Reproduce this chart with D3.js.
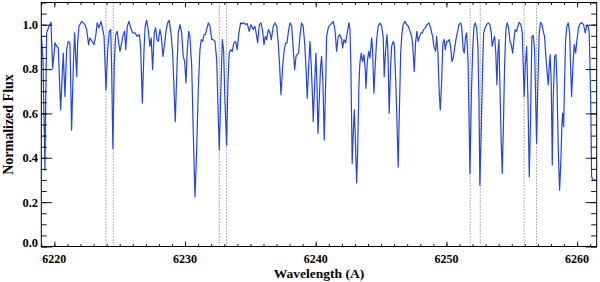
<!DOCTYPE html>
<html>
<head>
<meta charset="utf-8">
<script src="https://cdn.jsdelivr.net/npm/d3@7"></script>
<style>
  body { margin: 0; background: #fff; }
  svg { display: block; }
</style>
</head>
<body>
<svg id="main_svg" width="600" height="282"></svg>
<script>
// spectrum, wavelength in Angstrom
const wave = [
  6219.00, 6219.13, 6219.28, 6219.34, 6219.41, 6219.59, 6219.74, 6219.87, 6220.05, 6220.18,
  6220.30, 6220.48, 6220.68, 6220.81, 6220.94, 6221.06, 6221.19, 6221.32, 6221.45, 6221.55,
  6221.71, 6221.78, 6221.88, 6222.09, 6222.21, 6222.34, 6222.47, 6222.62, 6222.72, 6222.88,
  6223.03, 6223.16, 6223.28, 6223.41, 6223.57, 6223.70, 6223.80, 6223.95, 6224.08, 6224.20,
  6224.31, 6224.38, 6224.48, 6224.58, 6224.69, 6224.81, 6224.92, 6225.02, 6225.15, 6225.27,
  6225.38, 6225.46, 6225.58, 6225.71, 6225.84, 6225.99, 6226.17, 6226.34, 6226.50, 6226.60,
  6226.73, 6226.86, 6226.95, 6227.06, 6227.18, 6227.31, 6227.41, 6227.52, 6227.64, 6227.75,
  6227.85, 6227.95, 6228.08, 6228.18, 6228.31, 6228.41, 6228.54, 6228.67, 6228.79, 6228.92,
  6229.05, 6229.15, 6229.25, 6229.36, 6229.48, 6229.61, 6229.74, 6229.86, 6229.97, 6230.07,
  6230.17, 6230.28, 6230.37, 6230.51, 6230.63, 6230.76, 6230.89, 6231.01, 6231.14, 6231.24,
  6231.35, 6231.45, 6231.55, 6231.65, 6231.78, 6231.91, 6232.04, 6232.16, 6232.29, 6232.42,
  6232.54, 6232.62, 6232.72, 6232.85, 6232.95, 6233.05, 6233.18, 6233.28, 6233.38, 6233.49,
  6233.61, 6233.74, 6233.87, 6233.99, 6234.12, 6234.25, 6234.38, 6234.51, 6234.64, 6234.76,
  6234.91, 6235.04, 6235.10, 6235.22, 6235.35, 6235.48, 6235.56, 6235.68, 6235.81, 6235.94,
  6236.04, 6236.14, 6236.24, 6236.37, 6236.50, 6236.60, 6236.75, 6236.88, 6237.01, 6237.13,
  6237.24, 6237.34, 6237.47, 6237.59, 6237.70, 6237.80, 6237.93, 6238.03, 6238.16, 6238.28,
  6238.39, 6238.49, 6238.58, 6238.69, 6238.79, 6238.92, 6239.04, 6239.15, 6239.25, 6239.35,
  6239.46, 6239.56, 6239.66, 6239.76, 6239.81, 6239.92, 6240.01, 6240.09, 6240.17, 6240.27,
  6240.37, 6240.45, 6240.55, 6240.65, 6240.76, 6240.83, 6240.96, 6241.09, 6241.22, 6241.34,
  6241.47, 6241.60, 6241.72, 6241.85, 6241.98, 6242.06, 6242.16, 6242.29, 6242.41, 6242.54,
  6242.62, 6242.69, 6242.79, 6242.87, 6242.95, 6243.02, 6243.13, 6243.21, 6243.31, 6243.38,
  6243.48, 6243.59, 6243.69, 6243.79, 6243.84, 6243.94, 6244.05, 6244.15, 6244.28, 6244.35,
  6244.45, 6244.55, 6244.66, 6244.78, 6244.91, 6245.04, 6245.16, 6245.24, 6245.35, 6245.45,
  6245.52, 6245.62, 6245.73, 6245.81, 6245.93, 6246.01, 6246.11, 6246.19, 6246.31, 6246.39,
  6246.50, 6246.60, 6246.69, 6246.83, 6246.96, 6247.08, 6247.21, 6247.34, 6247.41, 6247.54,
  6247.64, 6247.74, 6247.84, 6247.95, 6248.05, 6248.15, 6248.26, 6248.38, 6248.53, 6248.66,
  6248.79, 6248.94, 6249.04, 6249.17, 6249.25, 6249.35, 6249.45, 6249.53, 6249.63, 6249.73,
  6249.83, 6249.91, 6250.02, 6250.12, 6250.22, 6250.32, 6250.42, 6250.52, 6250.65, 6250.75,
  6250.86, 6250.96, 6251.09, 6251.16, 6251.29, 6251.36, 6251.47, 6251.55, 6251.65, 6251.72,
  6251.80, 6251.90, 6252.01, 6252.11, 6252.21, 6252.31, 6252.41, 6252.49, 6252.56, 6252.66,
  6252.77, 6252.85, 6252.97, 6253.07, 6253.20, 6253.33, 6253.43, 6253.50, 6253.58, 6253.69,
  6253.78, 6253.86, 6253.94, 6254.02, 6254.09, 6254.19, 6254.27, 6254.35, 6254.45, 6254.55,
  6254.65, 6254.76, 6254.86, 6254.96, 6255.07, 6255.17, 6255.26, 6255.37, 6255.47, 6255.57,
  6255.70, 6255.80, 6255.88, 6255.95, 6256.03, 6256.14, 6256.24, 6256.34, 6256.44, 6256.54,
  6256.64, 6256.75, 6256.83, 6256.90, 6257.00, 6257.10, 6257.21, 6257.31, 6257.41, 6257.51,
  6257.61, 6257.71, 6257.79, 6257.87, 6257.94, 6258.02, 6258.10, 6258.17, 6258.28, 6258.38,
  6258.46, 6258.56, 6258.66, 6258.76, 6258.84, 6258.89, 6258.97, 6259.04, 6259.12, 6259.22,
  6259.32, 6259.43, 6259.50, 6259.58, 6259.68, 6259.78, 6259.89, 6259.99, 6260.11, 6260.24,
  6260.37, 6260.50, 6260.62, 6260.73, 6260.83, 6260.93, 6261.04, 6261.11, 6261.22, 6261.50
];

// normalized flux, same order as wave
const flux = [
  0.950, 0.842, 0.344, 0.661, 0.963, 0.993, 1.011, 0.804, 0.918, 0.902,
  0.895, 0.616, 0.872, 0.676, 0.887, 0.925, 0.918, 0.525, 0.812, 0.963,
  0.766, 0.918, 0.993, 1.015, 1.008, 1.000, 0.978, 0.910, 0.940, 0.925,
  0.910, 0.947, 1.008, 0.986, 1.015, 0.978, 0.947, 0.706, 0.887, 0.970,
  0.978, 0.812, 0.442, 0.812, 0.955, 0.970, 0.918, 0.880, 0.918, 0.955,
  0.970, 0.887, 0.993, 1.015, 0.986, 0.963, 0.963, 0.947, 0.955, 0.902,
  0.646, 0.887, 0.993, 1.020, 0.978, 0.902, 0.940, 0.797, 0.963, 0.986,
  0.933, 0.925, 0.978, 0.947, 0.857, 0.902, 0.970, 1.008, 1.020, 0.963,
  0.872, 0.721, 0.563, 0.766, 0.963, 1.000, 0.963, 0.857, 0.834, 0.737,
  0.887, 0.970, 0.947, 0.812, 0.510, 0.223, 0.434, 0.706, 0.887, 0.933,
  0.925, 0.955, 0.955, 0.978, 1.008, 0.993, 0.933, 0.933, 0.925, 0.843,
  0.585, 0.435, 0.661, 0.933, 0.887, 0.661, 0.457, 0.737, 0.872, 0.887,
  0.880, 0.918, 0.925, 0.887, 0.963, 1.008, 1.005, 1.008, 1.000, 1.005,
  0.970, 1.000, 0.993, 0.978, 0.993, 0.947, 0.918, 1.000, 1.008, 0.970,
  0.910, 0.947, 0.933, 0.978, 0.963, 0.933, 0.993, 1.008, 0.993, 0.918,
  0.812, 0.684, 0.812, 0.887, 0.918, 0.918, 0.978, 1.008, 0.993, 0.887,
  0.797, 0.857, 0.865, 0.872, 0.947, 1.008, 0.993, 0.918, 0.812, 0.669,
  0.812, 0.925, 0.812, 0.661, 0.563, 0.737, 0.872, 0.737, 0.510, 0.661,
  0.812, 0.857, 0.737, 0.480, 0.737, 0.947, 0.986, 1.000, 1.005, 1.015,
  0.978, 0.880, 0.947, 0.955, 0.933, 0.895, 0.933, 0.918, 0.963, 1.008,
  0.978, 0.812, 0.374, 0.510, 0.616, 0.510, 0.287, 0.435, 0.737, 0.827,
  0.872, 0.834, 0.865, 0.797, 0.714, 0.827, 0.880, 0.850, 0.940, 0.887,
  0.691, 0.812, 0.933, 0.993, 1.008, 0.993, 0.947, 0.766, 0.887, 0.955,
  0.887, 0.601, 0.812, 0.902, 0.925, 0.910, 0.766, 0.616, 0.359, 0.585,
  0.872, 0.963, 1.000, 1.015, 1.000, 0.993, 0.970, 0.947, 0.918, 0.789,
  0.918, 0.970, 0.925, 0.947, 0.963, 0.963, 0.978, 0.986, 1.000, 1.008,
  0.986, 0.947, 0.902, 0.880, 0.947, 0.872, 0.691, 0.616, 0.737, 0.918,
  0.933, 0.887, 0.925, 0.925, 0.933, 0.902, 0.834, 0.850, 0.902, 0.940,
  0.970, 1.000, 1.008, 0.993, 0.887, 0.872, 0.947, 0.963, 0.842, 0.616,
  0.329, 0.661, 0.887, 0.993, 1.008, 0.986, 0.902, 0.661, 0.276, 0.510,
  0.812, 0.963, 0.986, 1.000, 1.008, 1.000, 0.963, 0.902, 0.925, 0.947,
  0.872, 0.729, 0.872, 0.933, 0.737, 0.480, 0.329, 0.510, 0.812, 0.978,
  1.008, 0.986, 0.925, 0.910, 0.872, 0.933, 0.978, 0.970, 0.993, 1.011,
  1.000, 0.963, 0.812, 0.676, 0.812, 0.902, 0.661, 0.314, 0.585, 0.947,
  0.951, 0.887, 0.661, 0.465, 0.737, 0.963, 1.011, 1.000, 0.970, 0.947,
  0.857, 0.782, 0.729, 0.812, 0.865, 0.737, 0.367, 0.661, 0.857, 0.865,
  0.737, 0.435, 0.254, 0.389, 0.555, 0.601, 0.540, 0.737, 0.933, 0.993,
  1.008, 0.963, 0.812, 0.676, 0.812, 0.910, 0.872, 0.933, 0.986, 1.005,
  1.008, 1.000, 0.963, 0.993, 0.996, 0.963, 0.661, 0.314, 0.299, 0.299
];

// dotted marker lines (line centres)
const markLines = [6223.95, 6224.51, 6232.62, 6233.18, 6251.82, 6252.59, 6255.95, 6256.90];

// tick values
const xTicks = [6220, 6230, 6240, 6250, 6260];
const yTicks = [0.0, 0.2, 0.4, 0.6, 0.8, 1.0];

const SpectrumPlot = function() {
  function make() {
    let svg = d3.select('#main_svg');

    let box = { left: 41.3, right: 596.7, top: 2.5, bottom: 246.5 };
    let font = "'Liberation Serif', 'Times New Roman', serif";

    let x = d3.scaleLinear().domain([6219, 6261.5]).range([box.left, box.right]);
    let y = d3.scaleLinear().domain([0, 1.1]).range([box.bottom, box.top]);

    // clip for the spectrum
    svg.append('defs')
      .append('clipPath')
      .attr('id', 'plot_clip')
      .append('rect')
      .attr('x', box.left)
      .attr('y', box.top)
      .attr('width', box.right - box.left)
      .attr('height', box.bottom - box.top);

    // dotted line markers
    /////////////////////////////////////
    svg.append('g')
      .selectAll('line')
      .data(markLines)
      .enter()
      .append('line')
      .attr('x1', d => x(d))
      .attr('x2', d => x(d))
      .attr('y1', box.top)
      .attr('y2', box.bottom)
      .attr('stroke', '#555')
      .attr('stroke-width', 0.9)
      .attr('stroke-dasharray', '1,2');

    // spectrum
    /////////////////////////////////////
    let pts = wave.map((w, i) => [w, flux[i]]);
    let line = d3.line()
      .x(d => x(d[0]))
      .y(d => y(d[1]));

    svg.append('path')
      .datum(pts)
      .attr('clip-path', 'url(#plot_clip)')
      .attr('d', line)
      .attr('fill', 'none')
      .attr('stroke', '#2346dc')
      .attr('stroke-width', 1.2)
      .attr('stroke-linejoin', 'round');

    // axes (ticks on all four sides, IDL style)
    /////////////////////////////////////
    let xMinor = d3.range(6219, 6262, 1);
    let yMinor = d3.range(0, 1.1001, 0.05);

    svg.append('g')
      .attr('transform', 'translate(0,' + box.bottom + ')')
      .call(d3.axisBottom(x).tickValues(xMinor).tickSize(-2.5).tickFormat(''));
    svg.append('g')
      .attr('transform', 'translate(0,' + box.bottom + ')')
      .call(d3.axisBottom(x).tickValues(xTicks).tickSize(-5).tickFormat(''));
    svg.append('g')
      .attr('transform', 'translate(0,' + box.top + ')')
      .call(d3.axisTop(x).tickValues(xMinor).tickSize(-2.5).tickFormat(''));
    svg.append('g')
      .attr('transform', 'translate(0,' + box.top + ')')
      .call(d3.axisTop(x).tickValues(xTicks).tickSize(-5).tickFormat(''));

    svg.append('g')
      .attr('transform', 'translate(' + box.left + ',0)')
      .call(d3.axisLeft(y).tickValues(yMinor).tickSize(-5.5).tickFormat(''));
    svg.append('g')
      .attr('transform', 'translate(' + box.left + ',0)')
      .call(d3.axisLeft(y).tickValues(yTicks).tickSize(-11).tickFormat(''));
    svg.append('g')
      .attr('transform', 'translate(' + box.right + ',0)')
      .call(d3.axisRight(y).tickValues(yMinor).tickSize(-5.5).tickFormat(''));
    svg.append('g')
      .attr('transform', 'translate(' + box.right + ',0)')
      .call(d3.axisRight(y).tickValues(yTicks).tickSize(-11).tickFormat(''));

    svg.selectAll('.domain').remove();
    svg.selectAll('.tick line').attr('stroke', '#000').attr('stroke-width', 0.9);

    // frame
    svg.append('rect')
      .attr('x', box.left)
      .attr('y', box.top)
      .attr('width', box.right - box.left)
      .attr('height', box.bottom - box.top)
      .attr('fill', 'none')
      .attr('stroke', '#000')
      .attr('stroke-width', 1);

    // tick labels
    /////////////////////////////////////
    svg.append('g')
      .selectAll('text')
      .data(xTicks)
      .enter()
      .append('text')
      .attr('x', d => x(d))
      .attr('y', 262.8)
      .attr('text-anchor', 'middle')
      .style('font-family', font)
      .style('font-size', '12px')
      .style('font-weight', 700)
      .text(d => d);

    svg.append('g')
      .selectAll('text')
      .data(yTicks)
      .enter()
      .append('text')
      .attr('x', 38)
      .attr('y', d => Math.min(y(d), 243))
      .attr('dy', '0.35em')
      .attr('text-anchor', 'end')
      .style('font-family', font)
      .style('font-size', '12.5px')
      .style('font-weight', 700)
      .text(d => d3.format('.1f')(d));

    // axis titles
    /////////////////////////////////////
    svg.append('text')
      .attr('x', (box.left + box.right) / 2)
      .attr('y', 277.5)
      .attr('text-anchor', 'middle')
      .style('font-family', font)
      .style('font-size', '13.5px')
      .style('font-weight', 700)
      .text('Wavelength (A)');

    svg.append('g')
      .attr('transform', 'translate(12.5,' + (box.top + box.bottom) / 2 + ')')
      .append('text')
      .attr('transform', 'rotate(-90)')
      .attr('text-anchor', 'middle')
      .style('font-family', font)
      .style('font-size', '14px')
      .style('font-weight', 700)
      .text('Normalized Flux');
  }

  return {
    make: make,
  };
};

SpectrumPlot().make();
</script>
</body>
</html>
